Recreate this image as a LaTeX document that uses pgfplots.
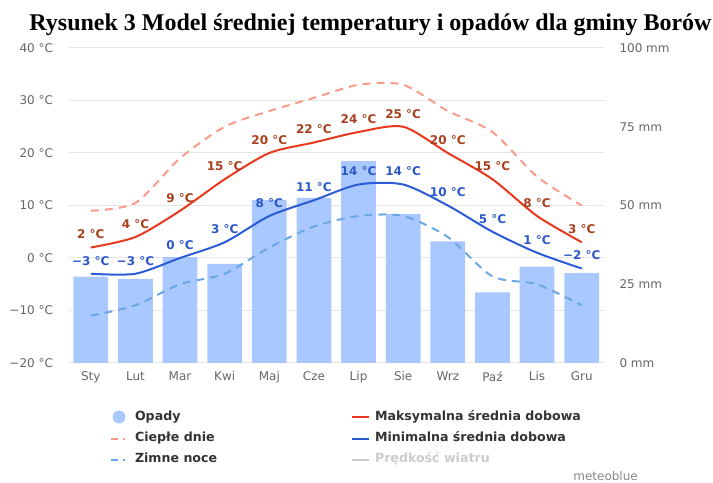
\documentclass[border=0pt]{standalone}
\usepackage{fontspec}
\setmainfont{DejaVu Sans}
\newfontfamily\titlefont{Liberation Serif}
\usepackage{pgfplots}
\pgfplotsset{compat=1.18}
\definecolor{barcol}{HTML}{A8C8FF}
\definecolor{maxcol}{HTML}{E8381E}
\definecolor{maxlab}{HTML}{A8401E}
\definecolor{mincol}{HTML}{2B5CD6}
\definecolor{minlab}{HTML}{2D58C8}
\definecolor{warmcol}{HTML}{FA9A8A}
\definecolor{coldcol}{HTML}{6BA7E6}
\definecolor{gridcol}{HTML}{E6E6E6}
\definecolor{ticklab}{HTML}{666666}
\definecolor{legtext}{HTML}{333333}
\definecolor{legoff}{HTML}{CCCCCC}
\definecolor{brand}{HTML}{888888}
\newcommand{\twelve}{\fontsize{12bp}{14bp}\selectfont}
\pgfplotsset{base/.style={
  width=535.5bp, height=315bp, scale only axis,
  at={(68.5bp,120bp)}, anchor=south west,
  xmin=-0.5, xmax=11.5,
  /pgf/number format/assume math mode=true,
  ticklabel style={font=\twelve, color=ticklab},
  tick style={draw=none},
}}
\begin{document}
\begin{tikzpicture}
\useasboundingbox (0,0) rectangle (713bp,483bp);
% grid and left axis
\begin{axis}[base, ymin=-20, ymax=40,
  ytick={-20,-10,0,10,20,30,40},
  yticklabels={−20 °C,−10 °C,0 °C,10 °C,20 °C,30 °C,40 °C},
  ymajorgrids, grid style={gridcol, line width=1bp},
  axis line style={draw=none},
  xtick={0,...,11},
  xticklabels={Sty,Lut,Mar,Kwi,Maj,Cze,Lip,Sie,Wrz,Paź,Lis,Gru},
  yticklabel style={xshift=-12bp},
  xticklabel style={yshift=-5bp},
]
\end{axis}
% precipitation bars, right axis
\begin{axis}[base, ymin=0, ymax=100,
  axis y line*=right, hide x axis,
  y axis line style={draw=none},
  ytick={0,25,50,75,100},
  yticklabels={0 mm,25 mm,50 mm,75 mm,100 mm},
  yticklabel style={xshift=12bp},
]
\addplot[ybar, bar width=0.78, fill=barcol, draw=none] coordinates {
 (0,27.4) (1,26.7) (2,33.6) (3,31.5) (4,51.7) (5,52.4)
 (6,64.1) (7,47.3) (8,38.6) (9,22.4) (10,30.6) (11,28.5)};
\end{axis}
% temperature lines
\begin{axis}[base, ymin=-20, ymax=40, hide axis,
  legend columns=2,
  legend cell align=left,
  legend style={at={(axis description cs:0.0738,-0.1508)}, anchor=north west,
    draw=none, fill=none, inner sep=0pt, outer sep=0pt, row sep=9bp,
    font=\fontsize{12.6bp}{15bp}\selectfont\bfseries, text=legtext,
    nodes={inner sep=0pt, text height=9bp, text depth=3bp}},
]
\addplot[warmcol, line width=2bp, smooth, tension=0.45, dash pattern=on 8bp off 6bp, forget plot] coordinates {
 (0,9) (1,10.5) (2,19) (3,25) (4,28) (5,30.5) (6,33) (7,33) (8,28) (9,24) (10,15.5) (11,10)};
\addplot[coldcol, line width=2bp, smooth, tension=0.45, dash pattern=on 8bp off 6bp, forget plot] coordinates {
 (0,-11) (1,-9) (2,-5) (3,-3) (4,2) (5,6) (6,8) (7,8) (8,4) (9,-3.5) (10,-5) (11,-9)};
\addplot[maxcol, line width=2bp, smooth, tension=0.45, forget plot,
  nodes near coords, point meta=explicit symbolic,
  nodes near coords style={anchor=center, yshift=13bp, font=\fontsize{12bp}{14bp}\selectfont\bfseries, text=maxlab}]
 coordinates {
 (0,2) [2 °C] (1,4) [4 °C] (2,9) [9 °C] (3,15) [15 °C] (4,20) [20 °C] (5,22) [22 °C]
 (6,24) [24 °C] (7,25) [25 °C] (8,20) [20 °C] (9,15) [15 °C] (10,8) [8 °C] (11,3) [3 °C]};
\addplot[mincol, line width=2bp, smooth, tension=0.45, forget plot,
  nodes near coords, point meta=explicit symbolic,
  nodes near coords style={anchor=center, yshift=13bp, font=\fontsize{12bp}{14bp}\selectfont\bfseries, text=minlab}]
 coordinates {
 (0,-3) [−3 °C] (1,-3) [−3 °C] (2,0) [0 °C] (3,3) [3 °C] (4,8) [8 °C] (5,11) [11 °C]
 (6,14) [14 °C] (7,14) [14 °C] (8,10) [10 °C] (9,5) [5 °C] (10,1) [1 °C] (11,-2) [−2 °C]};
% legend
\addlegendimage{legend image code/.code={\path[draw=none,fill=none] (0,-6bp) rectangle (22bp,6bp); \fill[barcol, draw=none] (11bp,0) circle (6.5bp);}}
\addlegendentry{\makebox[221bp][l]{\hspace{5bp}Opady}}
\addlegendimage{legend image code/.code={\path[draw=none,fill=none] (0,-6bp) rectangle (18bp,6bp); \draw[maxcol, line width=2bp] (0,0) -- (17bp,0);}}
\addlegendentry{\hspace{5bp}Maksymalna średnia dobowa}
\addlegendimage{legend image code/.code={\path[draw=none,fill=none] (0,-6bp) rectangle (22bp,6bp); \draw[warmcol, line width=2bp, dash pattern=on 7bp off 5bp on 2bp off 20bp] (3bp,0) -- (21bp,0);}}
\addlegendentry{\makebox[221bp][l]{\hspace{5bp}Ciepłe dnie}}
\addlegendimage{legend image code/.code={\path[draw=none,fill=none] (0,-6bp) rectangle (18bp,6bp); \draw[mincol, line width=2bp] (0,0) -- (17bp,0);}}
\addlegendentry{\hspace{5bp}Minimalna średnia dobowa}
\addlegendimage{legend image code/.code={\path[draw=none,fill=none] (0,-6bp) rectangle (22bp,6bp); \draw[coldcol, line width=2bp, dash pattern=on 7bp off 5bp on 2bp off 20bp] (3bp,0) -- (21bp,0);}}
\addlegendentry{\makebox[221bp][l]{\hspace{5bp}Zimne noce}}
\addlegendimage{legend image code/.code={\path[draw=none,fill=none] (0,-6bp) rectangle (18bp,6bp); \draw[legoff, line width=2bp] (0,0) -- (17bp,0);}}
\addlegendentry{\hspace{5bp}\textcolor{legoff}{Prędkość wiatru}}
\end{axis}
\node[anchor=base, font=\titlefont\bfseries\fontsize{24bp}{28bp}\selectfont, inner sep=0pt] at (370.5bp,452bp) {Rysunek 3 Model średniej temperatury i opadów dla gminy Borów};
\node[anchor=base east, font=\twelve, text=brand, inner sep=0pt] at (638bp,3bp) {meteoblue};
\end{tikzpicture}
\end{document}
